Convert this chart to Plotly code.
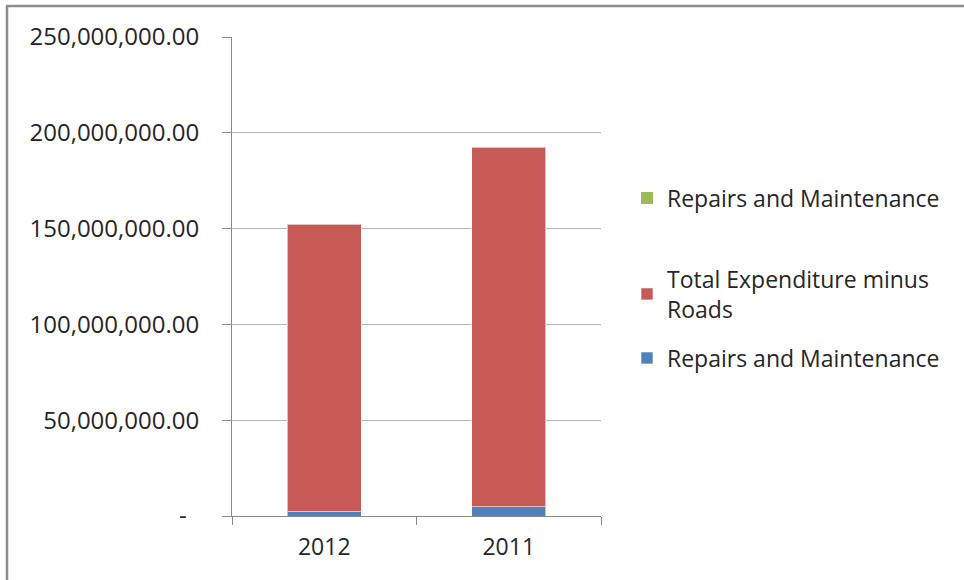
import plotly.graph_objects as go

# Annual expenditure figures (stacked per year)
years = ["2012", "2011"]
repairs_maintenance = [2_100_000, 4_700_000]
total_minus_roads = [150_100_000, 187_700_000]
repairs_empty = [0, 0]

y_tick_vals = [0, 50_000_000, 100_000_000, 150_000_000, 200_000_000, 250_000_000]
y_tick_text = ["-\u00a0\u00a0", "50,000,000.00", "100,000,000.00",
               "150,000,000.00", "200,000,000.00", "250,000,000.00"]

FONT = "Open Sans, Noto Sans, sans-serif"
TXT = "#262626"

# plot-area geometry in pixels (used to convert legend / frame positions)
W, H = 964, 580
L, R, T, B = 232, 601, 37, 516
pw, ph = R - L, B - T


def px_x(x):
    return (x - L) / pw


def px_y(y):
    return (B - y) / ph


fig = go.Figure()
fig.add_trace(go.Bar(
    x=years, y=repairs_maintenance, name="Repairs and Maintenance",
    marker=dict(color="#4F81BD", line=dict(color="rgba(255,255,255,0.6)", width=1)),
    legend="legend3",
))
fig.add_trace(go.Bar(
    x=years, y=total_minus_roads, name="Total Expenditure minus<br>Roads",
    marker=dict(color="#C75A56", line=dict(color="rgba(255,255,255,0.6)", width=1)),
    legend="legend2",
))
fig.add_trace(go.Bar(
    x=years, y=repairs_empty, name="Repairs and Maintenance",
    marker=dict(color="#9BBB59", line=dict(width=0)),
    legend="legend",
))

legend_common = dict(
    font=dict(family=FONT, size=23, color=TXT),
    xanchor="left", yanchor="middle", bgcolor="rgba(0,0,0,0)",
    borderwidth=0,
)
fig.update_layout(
    width=W, height=H,
    margin=dict(l=L, r=W - R, t=T, b=H - B, pad=0),
    paper_bgcolor="white", plot_bgcolor="white",
    barmode="stack", bargap=0.6,
    font=dict(family=FONT, color=TXT),
    legend=dict(x=px_x(627), y=px_y(198), **legend_common),
    legend2=dict(x=px_x(627), y=px_y(294), **legend_common),
    legend3=dict(x=px_x(627), y=px_y(358), **legend_common),
    xaxis=dict(
        type="category", showgrid=False, showline=True, linecolor="#8a8a8a", linewidth=1,
        ticks="outside", tickson="boundaries", ticklen=8, tickcolor="#8a8a8a",
        tickfont=dict(family=FONT, size=23, color=TXT), ticklabelstandoff=10,
        zeroline=False,
    ),
    yaxis=dict(
        range=[0, 250_000_000], tickvals=y_tick_vals, ticktext=y_tick_text,
        showgrid=True, gridcolor="#b3b3b3", gridwidth=1,
        showline=True, linecolor="#8a8a8a", linewidth=1,
        ticks="outside", ticklen=9, tickcolor="#8a8a8a",
        tickfont=dict(family=FONT, size=24, color=TXT), ticklabelstandoff=18,
        zeroline=False,
    ),
    shapes=[
        dict(type="line", xref="paper", yref="paper",
             x0=px_x(7), x1=px_x(7), y0=px_y(6), y1=px_y(H + 5),
             line=dict(color="#8c8c8c", width=2.5)),
        dict(type="line", xref="paper", yref="paper",
             x0=px_x(6), x1=px_x(W + 5), y0=px_y(6), y1=px_y(6),
             line=dict(color="#8c8c8c", width=2.5)),
    ],
    showlegend=True,
)

fig.write_html("out.html")
